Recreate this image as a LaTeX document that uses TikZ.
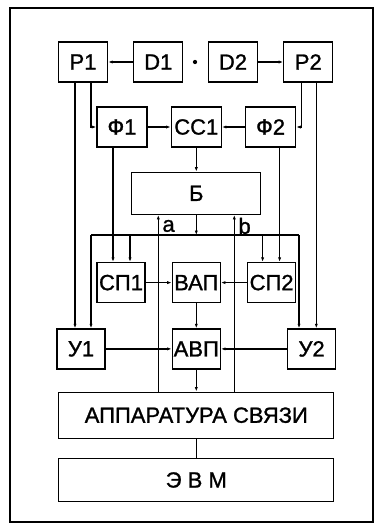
\documentclass[tikz,border=0pt]{standalone}
\usepackage{fontspec}
\setmainfont{Liberation Sans}[FakeBold=1.2]
\usetikzlibrary{arrows.meta, positioning}

\begin{document}
\begin{tikzpicture}[
        x=1pt, y=-1pt,
        node distance=25pt,
        box/.style={draw, line width=1.3pt, minimum width=49pt, minimum height=40pt,
                    inner sep=0pt, font=\fontsize{22}{26}\selectfont},
        widebox/.style={box, minimum width=275pt},
        lbl/.style={inner sep=0pt, font=\fontsize{22}{26}\selectfont},
        arr/.style={-{Latex[length=4.5pt,width=3.2pt]}, line width=1.2pt},
        ln/.style={line width=1.2pt}
      ]
        \useasboundingbox (0,0) rectangle (377,527);
        \draw[line width=1.1pt] (10,8) rectangle (373,522);
        % top row
        \node[box] (P1) at (83,62) {Р1};
        \node[box, right=of P1] (D1) {D1};
        \node[box] (D2) at (233,62) {D2};
        \node[box, right=of D2] (P2) {Р2};
        \node[circle, fill, inner sep=1.5pt] (dot) at (195,62) {};
        % filters
        \node[box, minimum width=50pt] (F1) at (122,127) {Ф1};
        \node[box, minimum width=50pt, right=23pt of F1] (CC1) {СС1};
        \node[box, minimum width=50pt, right=23pt of CC1] (F2) {Ф2};
        \node[box, minimum width=129pt, minimum height=42pt, below=24pt of CC1] (B) {Б};
        % middle rows
        \node[box, minimum width=48pt, below=47pt of B] (VAP) {ВАП};
        \node[box, minimum width=48pt, left=26pt of VAP] (SP1) {СП1};
        \node[box, minimum width=48pt, right=26pt of VAP] (SP2) {СП2};
        \node[box, minimum width=48pt, below=of VAP] (AVP) {АВП};
        \node[box, minimum width=48pt, left=66pt of AVP] (U1) {У1};
        \node[box, minimum width=48pt, right=66pt of AVP] (U2) {У2};
        % bottom
        \node[widebox, minimum height=46pt, below=22pt of AVP] (APP) {АППАРАТУРА СВЯЗИ};
        \node[widebox, minimum height=43pt, below=19pt of APP] (EVM) {Э В М};

        \draw[arr] (D1)--(P1);
        \draw[arr] (D2)--(P2);
        \draw[arr] ([xshift=8pt]P1.south) |- (F1.west);
        \draw[arr] ([xshift=-7pt]P2.south) |- (F2.east);
        \draw[arr] ([xshift=-8pt]P1.south) -- ([xshift=-8pt]P1.south |- U1.north);
        \draw[arr] ([xshift=8pt]P2.south) -- ([xshift=8pt]P2.south |- U2.north);
        \draw[arr] (F1)--(CC1);
        \draw[arr] (F2)--(CC1);
        \draw[arr] (CC1)--(B);
        \draw[arr] ([xshift=-9pt]F1.south) -- ([xshift=-9pt]F1.south |- SP1.north);
        \draw[arr] ([xshift=9pt]F2.south) -- ([xshift=9pt]F2.south |- SP2.north);
        % bus under B
        \coordinate (busL) at (91,235);
        \coordinate (busR) at (299,235);
        \draw[ln] (busL)--(busR);
        \draw[arr] (B.south) -- (B.south |- busL);
        \draw[arr] (busL) -- (busL |- U1.north);
        \draw[arr] (busR) -- (busR |- U2.north);
        \draw[arr] ([xshift=9pt]SP1.north |- busL) -- ([xshift=9pt]SP1.north);
        \draw[arr] ([xshift=-9pt]SP2.north |- busL) -- ([xshift=-9pt]SP2.north);
        % lines a and b
        \draw[arr] ([xshift=-38pt]B.south |- APP.north) -- ([xshift=-38pt]B.south);
        \draw[arr] ([xshift=38pt]B.south |- APP.north) -- ([xshift=38pt]B.south);
        \node[lbl, anchor=west] (la) at ([xshift=-34pt, yshift=-11pt]B.south) {a};
        \node[lbl, anchor=west] (lb) at ([xshift=42pt, yshift=-11pt]B.south) {b};
        \draw[arr] (SP1)--(VAP);
        \draw[arr] (SP2)--(VAP);
        \draw[arr] (VAP)--(AVP);
        \draw[arr] (U1)--(AVP);
        \draw[arr] (U2)--(AVP);
        \draw[arr] (AVP)--(APP);
        \draw[ln] (APP)--(EVM);
\end{tikzpicture}
\end{document}
